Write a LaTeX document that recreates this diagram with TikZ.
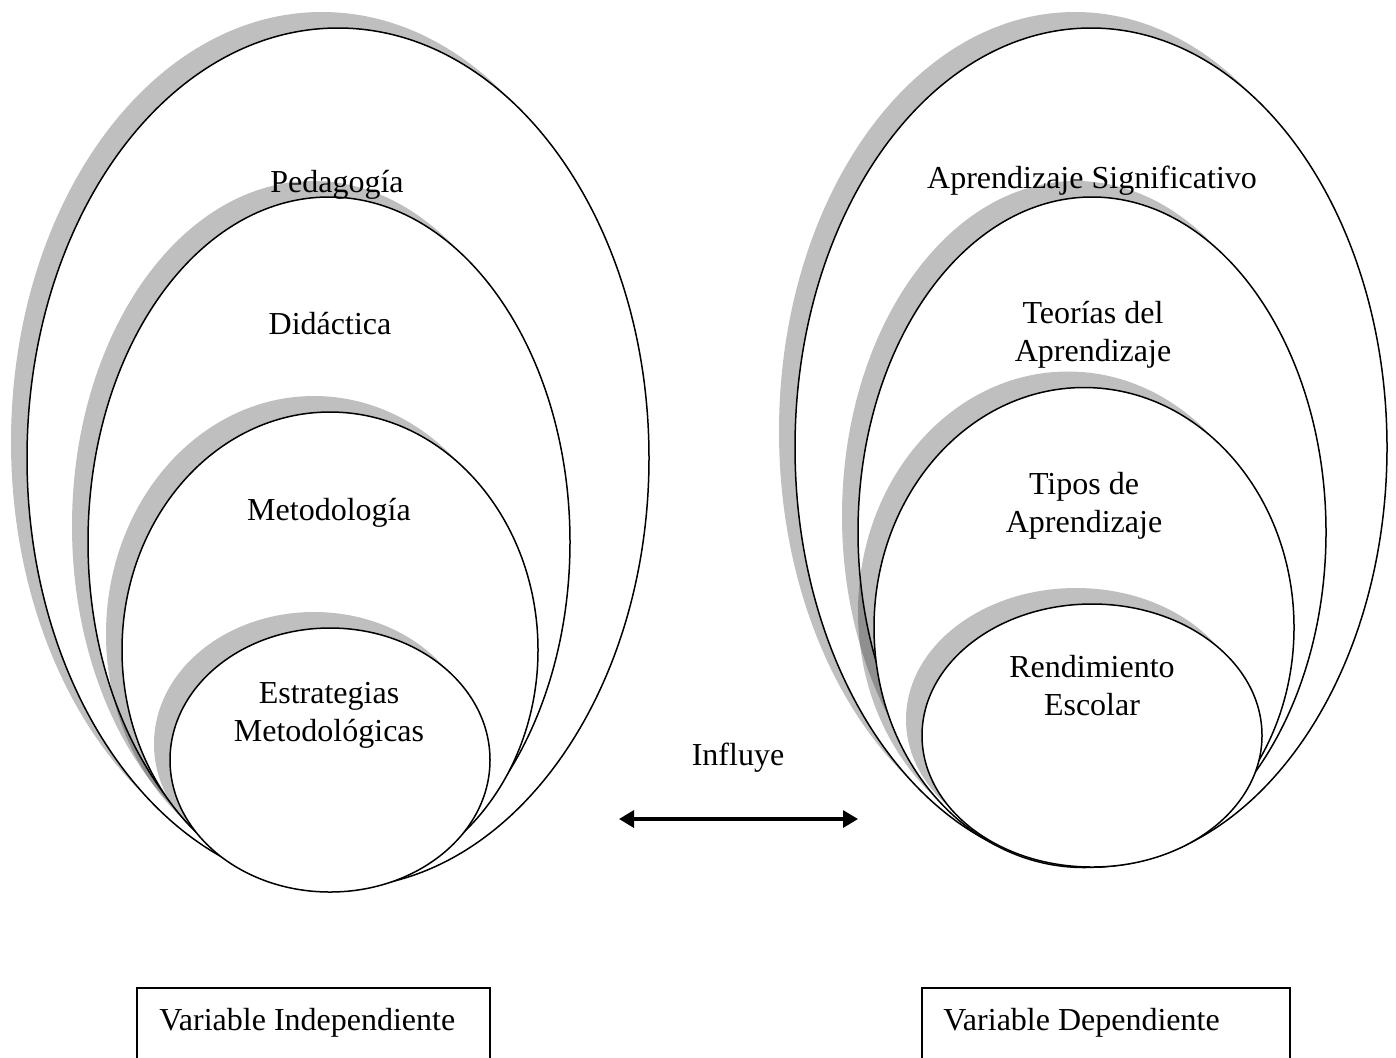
\documentclass[tikz,border=0pt]{standalone}
\usepackage{fontspec}
\setmainfont{Liberation Serif}
\usetikzlibrary{arrows.meta}
\begin{document}
\begin{tikzpicture}[x=0.5pt,y=-0.5pt,
  shadowfill/.style={fill=black,fill opacity=0.25},
  ring/.style={draw=black,fill=white,line width=0.75pt},
  lbl/.style={font=\fontsize{16}{19}\selectfont, align=center, anchor=base, inner sep=0pt},
  varbox/.style={draw=black,line width=1pt},
  influ/.style={arrows={Triangle[length=7.5pt,width=8.5pt]-Triangle[length=7.5pt,width=8.5pt]}, line width=1.6pt}]
\useasboundingbox (0,0) rectangle (1396,1057);
\clip (0,0) rectangle (1396,1057);
\newcommand\shadowring[4]{%
  \fill[shadowfill] (#1-16,#2-16) ellipse [x radius=#3, y radius=#4];
  \draw[ring] (#1,#2) ellipse [x radius=#3, y radius=#4];}
% left group
\shadowring{338}{458}{311}{430}
\shadowring{329}{542}{241}{345}
\shadowring{330}{650}{208}{238}
\shadowring{330}{760}{160}{132}
% right group
\shadowring{1091}{447.5}{296}{419.5}
\shadowring{1092}{532}{234}{335}
\shadowring{1084}{627.5}{210}{240}
\shadowring{1092}{735.5}{170}{131.5}
% labels (two-line labels anchored at the baseline of their last line)
\node[lbl] (ped) at (337,192) {Pedagogía};
\node[lbl] (did) at (330,334) {Didáctica};
\node[lbl] (met) at (329,520) {Metodología};
\node[lbl] (est) at (329,741) {Estrategias\\Metodológicas};
\node[lbl] (aps) at (1092,188) {Aprendizaje Significativo};
\node[lbl] (teo) at (1093,361) {Teorías del\\Aprendizaje};
\node[lbl] (tip) at (1084,532) {Tipos de\\Aprendizaje};
\node[lbl] (ren) at (1092,715) {Rendimiento\\Escolar};
\node[lbl] (inf) at (738,765) {Influye};
% arrow
\coordinate (aL) at (619,819);
\coordinate (aR) at (858,819);
\draw[influ] (aL) -- (aR);
% variable boxes
\draw[varbox] (137,988) rectangle (490,1080);
\node[lbl, anchor=base west] (vi) at (159,1030) {Variable Independiente};
\draw[varbox] (922,988) rectangle (1290,1080);
\node[lbl, anchor=base west] (vd) at (943,1030) {Variable Dependiente};
\end{tikzpicture}
\end{document}
